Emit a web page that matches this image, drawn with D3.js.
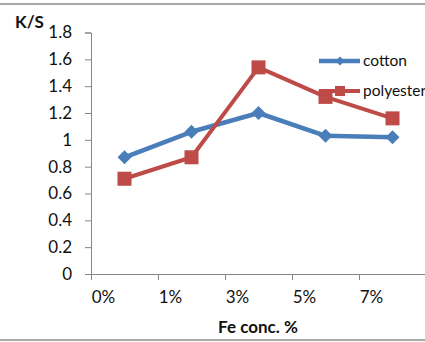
<!DOCTYPE html>
<html><head><meta charset="utf-8">
<script src="https://cdn.jsdelivr.net/npm/d3@7"></script>
<style>body{margin:0;background:#fff}svg{display:block}</style>
</head><body>
<svg id="c" width="425" height="342"></svg>
<script>
const categories = ["0%", "1%", "3%", "5%", "7%"];
const cotton = [0.87, 1.06, 1.20, 1.03, 1.02];
const polyester = [0.71, 0.87, 1.54, 1.32, 1.16];
const yTicks = [0, 0.2, 0.4, 0.6, 0.8, 1, 1.2, 1.4, 1.6, 1.8];

const svg = d3.select("#c");
const font = "Lato, 'Open Sans', sans-serif";
const axisCol = "#868686";
const blue = "#4a7ebb", red = "#be4b48";

svg.append("rect").attr("x", -2).attr("y", 4).attr("width", 430).attr("height", 336)
  .attr("fill", "#fff").attr("stroke", "#8c8c8c").attr("stroke-width", 1.5);

const x = d3.scaleLinear().domain([0, 5]).range([91, 426]);
const y = d3.scaleLinear().domain([0, 1.8]).range([274, 32.5]);

// y axis
const ya = svg.append("g").attr("transform", "translate(91,0)")
  .call(d3.axisLeft(y).tickValues(yTicks).tickSize(6).tickPadding(13)
    .tickFormat(d => d3.format("")(d)));
ya.selectAll("path,line").attr("stroke", axisCol);
ya.selectAll("text").attr("font-family", font).attr("font-size", 17).attr("fill", "#111");

// x axis
const xa = svg.append("g").attr("transform", "translate(0,274)")
  .call(d3.axisBottom(x).tickValues([0, 1, 2, 3, 4]).tickSize(6).tickSizeOuter(0).tickPadding(11)
    .tickFormat(i => categories[i]));
xa.select("path").attr("stroke", axisCol).attr("d", "M85,0.5H426");
xa.selectAll("line").attr("stroke", axisCol);
xa.selectAll("text").attr("font-family", font).attr("font-size", 17).attr("fill", "#111")
  .attr("dx", 12);

const px = i => x(i + 0.5);
const line = d3.line().x((d, i) => px(i)).y(d => y(d));

svg.append("path").datum(cotton).attr("d", line).attr("fill", "none")
  .attr("stroke", blue).attr("stroke-width", 4.5).attr("stroke-linejoin", "round");
svg.append("path").datum(polyester).attr("d", line).attr("fill", "none")
  .attr("stroke", red).attr("stroke-width", 4).attr("stroke-linejoin", "round");

const diamond = s => `M0,${-s}L${s},0L0,${s}L${-s},0Z`;
svg.selectAll(".dm").data(cotton).enter().append("path")
  .attr("transform", (d, i) => `translate(${px(i)},${y(d)})`)
  .attr("d", diamond(7)).attr("fill", blue);
svg.selectAll(".sq").data(polyester).enter().append("rect")
  .attr("x", (d, i) => px(i) - 7).attr("y", d => y(d) - 7)
  .attr("width", 14).attr("height", 14).attr("fill", red);

// legend
const lg = svg.append("g");
lg.append("line").attr("x1", 319).attr("x2", 360).attr("y1", 61).attr("y2", 61)
  .attr("stroke", blue).attr("stroke-width", 4.5);
lg.append("path").attr("transform", "translate(340,61)").attr("d", diamond(4.5)).attr("fill", blue);
lg.append("text").attr("x", 363).attr("y", 66).text("cotton")
  .attr("font-family", font).attr("font-size", 15.5).attr("fill", "#111");
lg.append("line").attr("x1", 319).attr("x2", 360).attr("y1", 91).attr("y2", 91)
  .attr("stroke", red).attr("stroke-width", 4);
lg.append("rect").attr("x", 335).attr("y", 86).attr("width", 10).attr("height", 10).attr("fill", red);
lg.append("text").attr("x", 363).attr("y", 96).text("polyester")
  .attr("font-family", font).attr("font-size", 15.5).attr("fill", "#111");

// titles
svg.append("text").attr("x", 15).attr("y", 28).text("K/S")
  .attr("font-family", font).attr("font-weight", "bold").attr("font-size", 17).attr("fill", "#111");
svg.append("text").attr("x", 258).attr("y", 333).attr("text-anchor", "middle").text("Fe conc. %")
  .attr("font-family", font).attr("font-weight", "bold").attr("font-size", 17).attr("fill", "#111");
</script>
</body></html>
